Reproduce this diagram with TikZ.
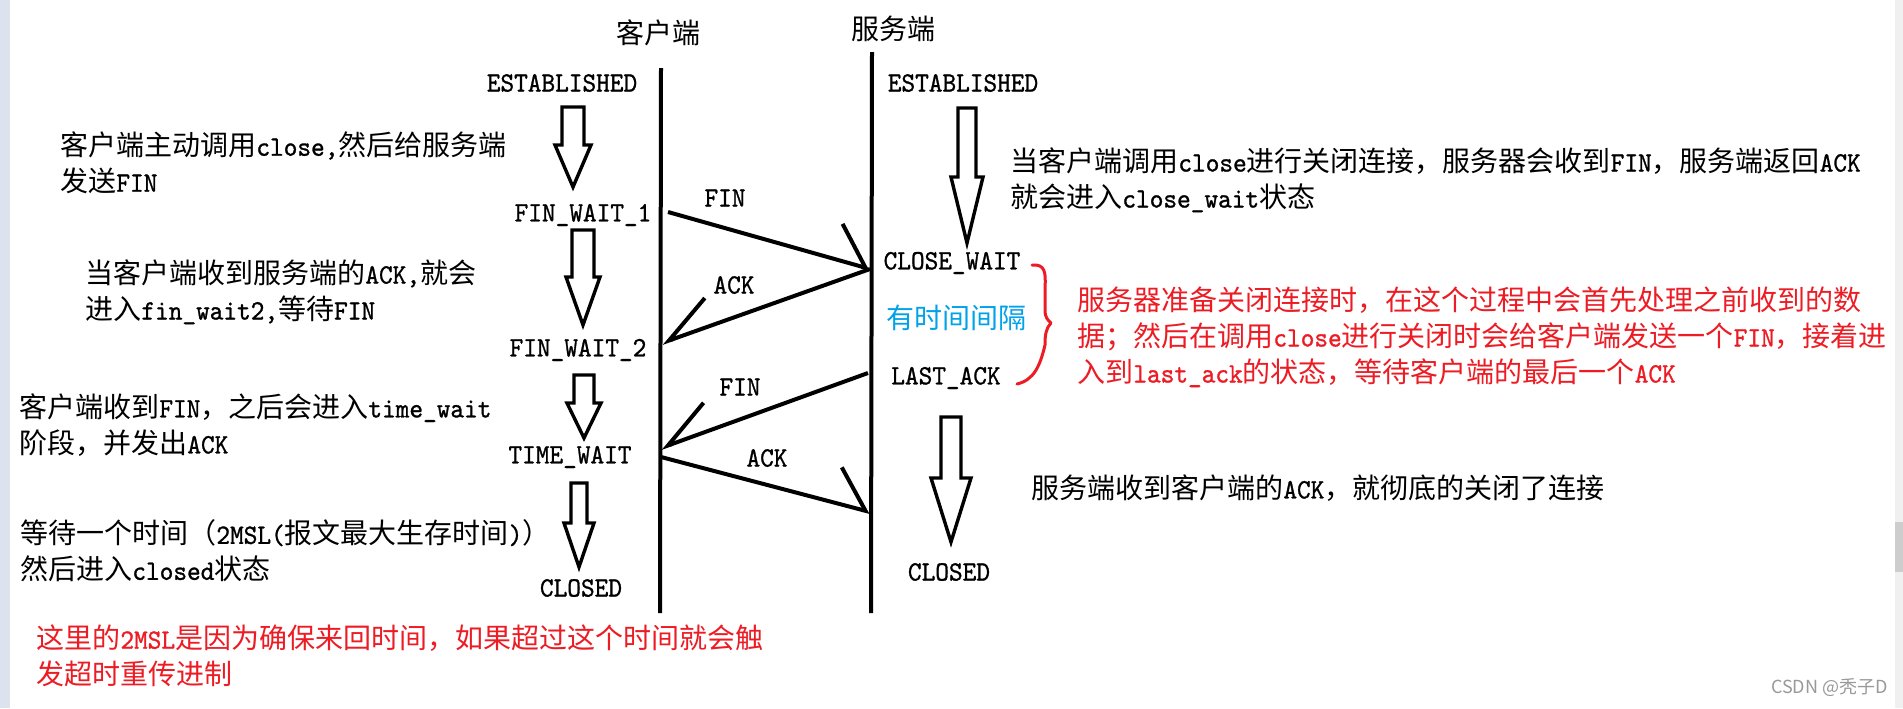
\documentclass[tikz,border=0pt]{standalone}
\usepackage{fontspec}
\setmainfont{Noto Sans CJK SC}
\newfontfamily\ascfont[FakeStretch=0.93,FakeBold=1]{lmmono10-regular.otf}
\newcommand\asc[1]{{\ascfont #1}}
\usepackage{tikz}
\usetikzlibrary{arrows.meta,positioning,calc}
\definecolor{tcpInk}{HTML}{000000}
\definecolor{tcpRed}{HTML}{ED1C24}
\definecolor{tcpBlue}{HTML}{00A2E8}
\definecolor{tcpEdge}{HTML}{DCE3EE}
\definecolor{tcpBar}{HTML}{F0F0F0}
\definecolor{tcpThumb}{HTML}{CDCDCD}
\definecolor{tcpMark}{HTML}{999999}
\tikzset{
  txt/.style      ={font=\fontsize{14}{18}\selectfont,text=tcpInk,inner sep=0pt},
  state/.style    ={txt,font=\fontsize{14}{18}\selectfont\ascfont},
  note/.style     ={txt,align=left,anchor=west},
  rnote/.style    ={note,text=tcpRed},
  life/.style     ={tcpInk,line width=2pt},
  hollow/.style   ={draw=tcpInk,fill=white,line width=1.7pt,line join=miter},
  msg/.style      ={tcpInk,line width=2pt},
  tosrv/.style    ={msg,-{Straight Barb[left,length=17pt,width=36pt]}},
  toclt/.style    ={msg,-{Straight Barb[right,length=24pt,width=28pt]}},
  redbrace/.style ={tcpRed,line width=1.5pt,line cap=round,line join=round},
}
%% fat hollow arrow: top, tip, head length, shaft half width, head half width
\newcommand\fatdown[5]{%
  \draw[hollow] ($(#1)+(-#4,0)$) -- ($(#1)+(#4,0)$) -- ($(#2)+(#4,-#3)$)
    -- ($(#2)+(#5,-#3)$) -- (#2) -- ($(#2)+(-#5,-#3)$) -- ($(#2)+(-#4,-#3)$) -- cycle;}

\begin{document}
\begin{tikzpicture}[x=0.5pt,y=-0.5pt]
\useasboundingbox (0,0) rectangle (1903,708);
\fill[white] (0,0) rectangle (1903,708);
\fill[tcpEdge] (0,0) rectangle (10,708);
\fill[tcpBar] (1895,0) rectangle (1903,708);
\fill[tcpThumb] (1895,522) rectangle (1903,572);

%% lifelines
\node[txt] (clt) at (658,33) {客户端};
\node[txt] (srv) at (893,29) {服务端};
\coordinate (cTop) at (661,68);
\coordinate (cBot) at (660,613);
\coordinate (sTop) at (872,52);
\coordinate (sBot) at (871,613);
\draw[life] (cTop) -- (cBot);
\draw[life] (sTop) -- (sBot);

%% client states
\node[state] (cEst) at (562,83) {ESTABLISHED};
\node[state] (cFw1) at (583,215) {FIN\_WAIT\_1};
\node[state] (cFw2) at (578,350) {FIN\_WAIT\_2};
\node[state] (cTw)  at (570,457) {TIME\_WAIT};
\node[state] (cCl)  at (581,588) {CLOSED};

%% server states
\node[state] (sEst) at (963,83) {ESTABLISHED};
\node[state] (sCw)  at (952,263) {CLOSE\_WAIT};
\node[txt,text=tcpBlue] (gap) at (956,318) {有时间间隔};
\node[state] (sLa)  at (946,378) {LAST\_ACK};
\node[state] (sCl)  at (949,572) {CLOSED};

%% state changes
\coordinate (a1t) at (573,107); \coordinate (a1b) at (573,187);
\coordinate (a2t) at (583,230); \coordinate (a2b) at (583,325);
\coordinate (a3t) at (584,375); \coordinate (a3b) at (584,438);
\coordinate (a4t) at (579,483); \coordinate (a4b) at (579,567);
\coordinate (b1t) at (967,108); \coordinate (b1b) at (967,243);
\coordinate (b2t) at (951,417); \coordinate (b2b) at (951,542);
\fatdown{a1t}{a1b}{42}{11}{18}
\fatdown{a2t}{a2b}{48}{11}{17}
\fatdown{a3t}{a3b}{35}{10}{17}
\fatdown{a4t}{a4b}{44}{8}{15}
\fatdown{b1t}{b1b}{66}{9}{16}
\fatdown{b2t}{b2b}{64}{10}{20}

%% segments
\coordinate (fin1c) at (668,212); \coordinate (fin1s) at (870,269);
\coordinate (ack1c) at (662,343);
\coordinate (fin2s) at (868,373); \coordinate (fin2c) at (661,448);
\coordinate (ack2c) at (661,457); \coordinate (ack2s) at (870,512);
\draw[tosrv] (fin1c) -- (fin1s);
\draw[toclt] (fin1s) -- (ack1c);
\draw[toclt] (fin2s) -- (fin2c);
\draw[tosrv] (ack2c) -- (ack2s);
\node[state] (lFin1) at (725,198) {FIN};
\node[state] (lAck1) at (734,285) {ACK};
\node[state] (lFin2) at (740,387) {FIN};
\node[state] (lAck2) at (767,458) {ACK};

\draw[redbrace] (1032,265) .. controls (1045,264) and (1046,272) .. (1045,288) -- (1045,310)
  .. controls (1045,318) and (1048,320) .. (1051,323) .. controls (1046,328) and (1045,335) .. (1045,345)
  .. controls (1040,366) and (1034,380) .. (1017,384);

%% notes
\node[note] (n1) at (60,163) {客户端主动调用\asc{close,}然后给服务端\\发送\asc{FIN}};
\node[note] (n2) at (85,292) {当客户端收到服务端的\asc{ACK,}就会\\进入\asc{fin\_wait2,}等待\asc{FIN}};
\node[note] (n3) at (19,425) {客户端收到\asc{FIN}，之后会进入\asc{time\_wait}\\阶段，并发出\asc{ACK}};
\node[note] (n4) at (20,551) {等待一个时间（\asc{2MSL(}报文最大生存时间\asc{)}）\\然后进入\asc{closed}状态};
\node[rnote] (n5) at (36,656) {这里的\asc{2MSL}是因为确保来回时间，如果超过这个时间就会触\\发超时重传进制};
\node[note] (n6) at (1010,180) {当客户端调用\asc{close}进行关闭连接，服务器会收到\asc{FIN}，服务端返回\asc{ACK}\\就会进入\asc{close\_wait}状态};
\node[rnote] (n7) at (1077,337) {服务器准备关闭连接时，在这个过程中会首先处理之前收到的数\\据；然后在调用\asc{close}进行关闭时会给客户端发送一个\asc{FIN}，接着进\\入到\asc{last\_ack}的状态，等待客户端的最后一个\asc{ACK}};
\node[note] (n8) at (1031,488) {服务端收到客户端的\asc{ACK}，就彻底的关闭了连接};
\node[txt,font=\fontsize{9}{11}\selectfont,text=tcpMark,anchor=east] (mark) at (1888,688) {CSDN @秃子D};
\end{tikzpicture}
\end{document}
